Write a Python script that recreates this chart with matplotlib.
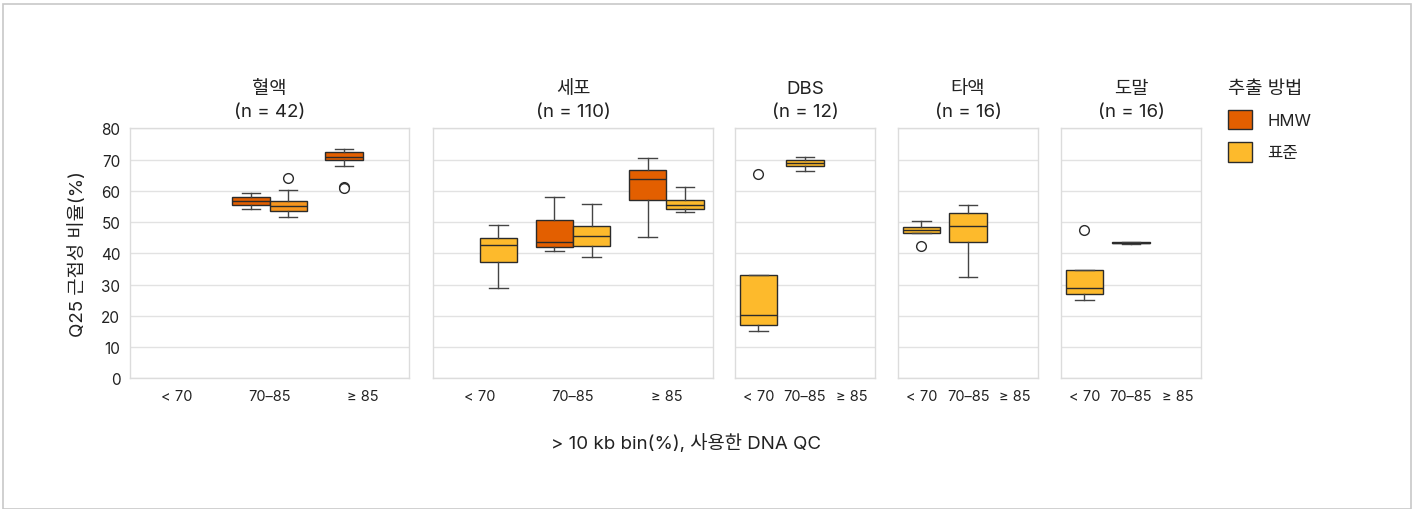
import matplotlib
matplotlib.use('Agg')
import matplotlib.pyplot as plt
from matplotlib.patches import Patch, Rectangle

plt.rcParams['font.family'] = ['Inter', 'Noto Sans CJK KR', 'DejaVu Sans']
###############################################################################
# Data
###############################################################################
PANELS = ['혈액', '세포', 'DBS', '타액', '도말']
N_COUNTS = [42, 110, 12, 16, 16]
BINS = ['< 70', '70–85', '≥ 85']
METHODS = ['HMW', '표준']
COLORS = {'HMW': '#E35F00', '표준': '#FDBA2C'}

# one entry per box ------------------------------------------------------------
BOX_PANEL = ['혈액', '혈액', '혈액',
             '세포', '세포', '세포', '세포', '세포',
             'DBS', 'DBS',
             '타액', '타액',
             '도말', '도말']
BOX_BIN = ['70–85', '70–85', '≥ 85',
           '< 70', '70–85', '70–85', '≥ 85', '≥ 85',
           '< 70', '70–85',
           '< 70', '70–85',
           '< 70', '70–85']
BOX_METHOD = ['HMW', '표준', 'HMW',
              '표준', 'HMW', '표준', 'HMW', '표준',
              '표준', '표준',
              '표준', '표준',
              '표준', '표준']
WHIS_LO = [54.2, 51.6, 67.9, 28.9, 40.7, 38.7, 45.3, 53.3, 15.1, 66.3, 46.6, 32.4, 25.2, 43.1]
Q1 = [55.6, 53.6, 69.9, 37.1, 42.1, 42.3, 56.9, 54.3, 17.2, 68.0, 46.6, 43.7, 27.0, 43.2]
MED = [56.8, 55.2, 70.7, 42.7, 43.5, 45.4, 63.7, 55.3, 20.1, 68.9, 47.6, 48.7, 29.0, 43.4]
Q3 = [58.1, 56.8, 72.4, 45.0, 50.7, 48.8, 66.7, 57.2, 33.0, 69.8, 48.4, 52.8, 34.6, 43.6]
WHIS_HI = [59.4, 60.4, 73.3, 49.0, 58.0, 55.7, 70.5, 61.1, 33.0, 70.7, 50.2, 55.6, 34.6, 43.7]
FLIERS = [[], [64.1], [61.2, 60.8], [], [], [], [], [], [65.5], [], [42.4], [], [47.5], []]
# the 표준 boxes in the blood panel render a deeper orange in the reference
BOX_FILL_OVERRIDE = {('혈액', '표준'): '#F7961E'}

###############################################################################
# Layout (pixel boxes of the panels in a 1416x510 figure)
###############################################################################
W, H = 1416, 510
PANEL_X = [(130, 409), (433, 713), (735, 875), (898, 1038), (1061, 1201)]
PANEL_Y = (129.3, 379.3)
EDGE = '#2b2b2b'
TXT = '#222222'

fig = plt.figure(figsize=(W / 100, H / 100), dpi=100)
fig.patches.append(Rectangle((3 / W, 0), (1411 - 3) / W, 1 - 5 / H,
                             transform=fig.transFigure, fill=False,
                             edgecolor='#c8c8c8', linewidth=1.2))

for (pi, panel) in enumerate(PANELS):
    (x0, x1) = PANEL_X[pi]
    ax = fig.add_axes([x0 / W, 1 - PANEL_Y[1] / H, (x1 - x0) / W,
                       (PANEL_Y[1] - PANEL_Y[0]) / H])
    idx = [i for i, p in enumerate(BOX_PANEL) if p == panel]
    dodge = len(set(BOX_METHOD[i] for i in idx)) > 1
    for i in idx:
        xc = BINS.index(BOX_BIN[i])
        if dodge:
            xc += -0.2 if BOX_METHOD[i] == 'HMW' else 0.2
            width = 0.4
        else:
            width = 0.8
        stats = [{'whislo': WHIS_LO[i], 'q1': Q1[i], 'med': MED[i],
                  'q3': Q3[i], 'whishi': WHIS_HI[i], 'fliers': FLIERS[i]}]
        fill = BOX_FILL_OVERRIDE.get((panel, BOX_METHOD[i]), COLORS[BOX_METHOD[i]])
        ax.bxp(stats, positions=[xc], widths=[width], capwidths=[width / 2],
               patch_artist=True, manage_ticks=False,
               boxprops=dict(facecolor=fill, edgecolor=EDGE, linewidth=1),
               medianprops=dict(color=EDGE, linewidth=1),
               whiskerprops=dict(color='#444444', linewidth=1),
               capprops=dict(color='#444444', linewidth=1),
               flierprops=dict(marker='o', markersize=7, markerfacecolor='white',
                               markeredgecolor=EDGE, markeredgewidth=1),
               zorder=3)
    ax.set_xlim(-0.5, 2.5)
    ax.set_ylim(0, 80)
    ax.set_xticks(range(len(BINS)))
    ax.set_xticklabels(BINS, fontsize=10.5, color=TXT)
    ax.set_yticks(range(0, 81, 10))
    ax.grid(axis='y', color='#e2e2e2', linewidth=1, zorder=0)
    ax.set_axisbelow(True)
    ax.tick_params(length=0, pad=8)
    for sp in ax.spines.values():
        sp.set_color('#dcdcdc')
        sp.set_linewidth(1)
    if pi == 0:
        ax.set_yticklabels([str(v) for v in range(0, 81, 10)], fontsize=11,
                           color=TXT)
        ax.tick_params(axis='y', pad=7)
        ax.set_ylabel('Q25 근접성 비율(%)', fontsize=13.5, labelpad=10, color=TXT)
    else:
        ax.set_yticklabels([])
    ax.set_title('{}\n(n = {})'.format(panel, N_COUNTS[pi]), fontsize=13.5,
                 pad=9, linespacing=1.42, color=TXT)

fig.text(686 / W, 1 - 444 / H, '> 10 kb bin(%), 사용한 DNA QC', fontsize=13.5,
         ha='center', va='center', color=TXT)

handles = [Patch(facecolor=COLORS[m], edgecolor=EDGE, linewidth=1, label=m)
           for m in METHODS]
leg = fig.legend(handles=handles, title='추출 방법', loc='upper left',
                 bbox_to_anchor=(1213 / W, 1 - 66 / H), frameon=False,
                 fontsize=12, title_fontsize=13.5, handlelength=1.45,
                 handleheight=1.45, handletextpad=0.9, labelspacing=0.75)
leg._legend_box.align = 'left'
for t in leg.get_texts():
    t.set_color(TXT)
leg.get_title().set_color(TXT)

fig.savefig('out.png', dpi=100)
